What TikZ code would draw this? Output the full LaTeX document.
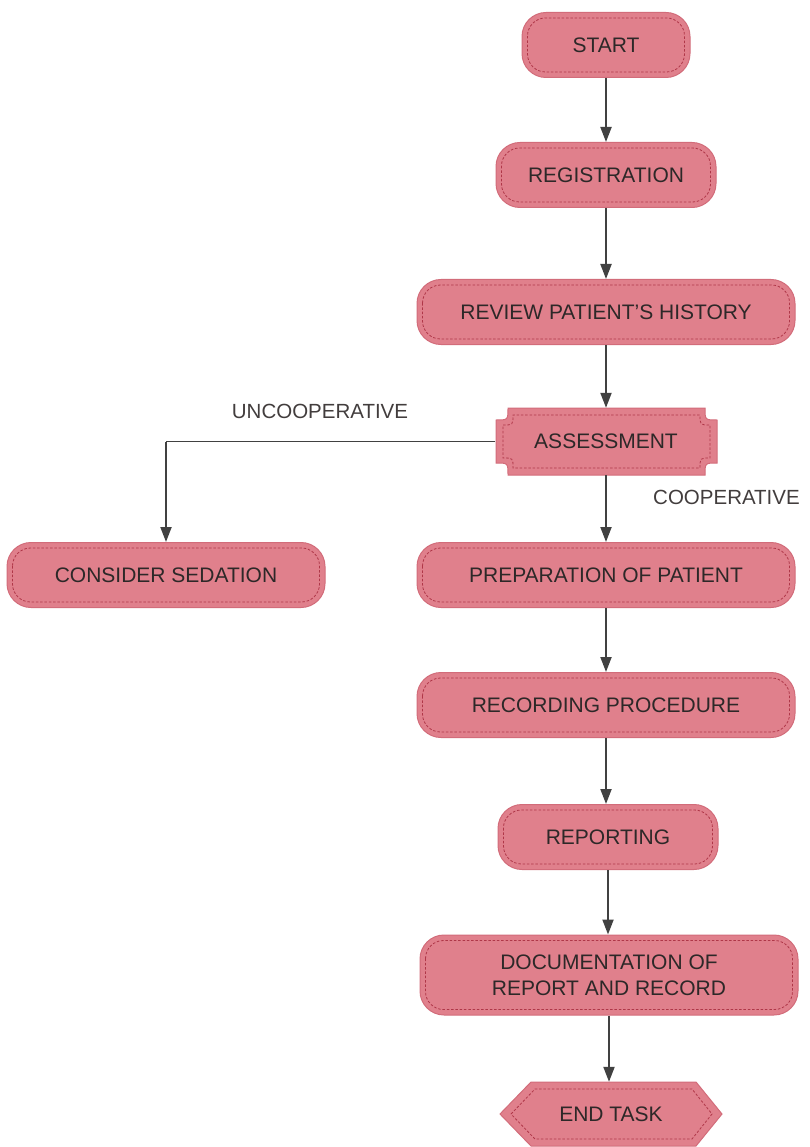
\documentclass[tikz,border=0pt]{standalone}
\usepackage{fontspec}
\setmainfont{Liberation Sans}
\usetikzlibrary{arrows.meta,calc}
\definecolor{boxfill}{RGB}{224,128,140}
\definecolor{boxedge}{RGB}{210,108,122}
\definecolor{dashcol}{RGB}{175,55,72}
\definecolor{txt}{RGB}{45,40,40}
\definecolor{arr}{RGB}{65,65,65}
\tikzset{
  x=1pt,y=-1pt,
  pill/.style={draw=boxedge,line width=1pt,fill=boxfill,rounded corners=24pt,
    minimum height=65pt,inner sep=0pt,font=\fontsize{21}{26}\selectfont,text=txt,align=center},
  innerdash/.style={draw=dashcol,line width=0.8pt,dash pattern=on 2.5pt off 1.8pt,rounded corners=18pt},
  plain/.style={inner sep=0pt,font=\fontsize{21}{26}\selectfont,text=txt,align=center},
  lbl/.style={inner sep=0pt,font=\fontsize{20.5}{25}\selectfont,text=txt!90!white},
  shapefill/.style={draw=boxedge,line width=1pt,fill=boxfill},
  dashline/.style={draw=dashcol,line width=0.8pt,dash pattern=on 2.5pt off 1.8pt},
  flow/.style={draw=arr,line width=2pt,-{Triangle[width=11pt,length=15pt]}},
  flowline/.style={draw=arr,line width=1.7pt},
}
\begin{document}
\begin{tikzpicture}
\useasboundingbox (0,0) rectangle (810,1147);
% pill nodes
\node[pill,minimum width=168pt] (start) at (606,45) {START};
\node[pill,minimum width=220pt] (reg) at (606,175) {REGISTRATION};
\node[pill,minimum width=378pt] (rev) at (606,312) {REVIEW PATIENT'S HISTORY};
\node[pill,minimum width=318pt] (sed) at (166,575) {CONSIDER SEDATION};
\node[pill,minimum width=378pt] (prep) at (606,575) {PREPARATION OF PATIENT};
\node[pill,minimum width=378pt] (recp) at (606,705) {RECORDING PROCEDURE};
\node[pill,minimum width=220pt] (rep) at (608,837) {REPORTING};
\node[pill,minimum width=378pt,minimum height=80pt,font=\fontsize{21}{26}\selectfont] (doc) at (609,975) {DOCUMENTATION OF\\REPORT AND RECORD};
\foreach \n in {start,reg,rev,sed,prep,recp,rep,doc}{
  \draw[innerdash] ($(\n.north west)+(6,6)$) rectangle ($(\n.south east)+(-6,-6)$);
}
% assessment: notched (concave) corners
\path[shapefill] (496,420) .. controls (508,420) .. (508,408) -- (705,408)
  .. controls (705,420) .. (717,420) -- (717,463)
  .. controls (705,463) .. (705,475) -- (508,475)
  .. controls (508,463) .. (496,463) -- cycle;
\path[dashline] (503,425) .. controls (513,425) .. (513,415) -- (700,415)
  .. controls (700,425) .. (710,425) -- (710,458)
  .. controls (700,458) .. (700,468) -- (513,468)
  .. controls (513,458) .. (503,458) -- cycle;
\node[plain,minimum width=221pt,minimum height=67pt] (ass) at (606,441.5) {ASSESSMENT};
% end task: hexagon
\path[shapefill] (500,1114) -- (531,1082) -- (696,1082) -- (722,1114) -- (696,1146) -- (531,1146) -- cycle;
\path[dashline] (511,1114) -- (535,1089) -- (692,1089) -- (712,1114) -- (692,1139) -- (535,1139) -- cycle;
\node[plain,minimum width=222pt,minimum height=64pt] (end) at (611,1114) {END TASK};
% connectors
\draw[flow] (start.south) -- (reg.north);
\draw[flow] (reg.south) -- (rev.north);
\draw[flow] (rev.south) -- (rev.south |- ass.north);
\draw[flow] (ass.south) -- (ass.south |- prep.north);
\draw[flow] (prep.south) -- (prep.south |- recp.north);
\draw[flow] (recp.south) -- (recp.south |- rep.north);
\draw[flow] (rep.south) -- (rep.south |- doc.north);
\draw[flow] (doc.south) -- (doc.south |- end.north);
\coordinate (corner) at (sed.north |- ass.west);
\draw[flowline] (ass.west) -- (corner);
\draw[flow] (corner) -- (sed.north);
% labels
\node[lbl] (unc) at (320,411) {UNCOOPERATIVE};
\node[lbl,anchor=west] (coop) at (653,497) {COOPERATIVE};
\end{tikzpicture}
\end{document}
